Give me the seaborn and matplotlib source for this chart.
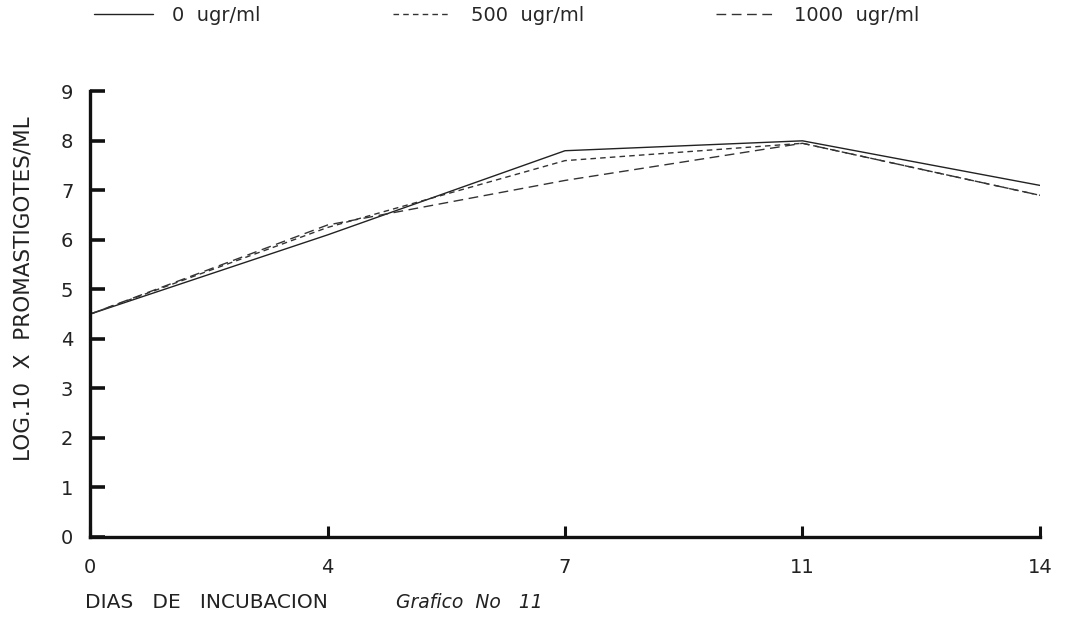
import matplotlib
matplotlib.use("Agg")
import matplotlib.pyplot as plt
import seaborn as sns
import pandas as pd

# Incubation days (evenly spaced categories on the x axis)
days = ["0", "4", "7", "11", "14"]

# log10 of promastigotes/ml for each concentration
conc_0 = [4.5, 6.1, 7.8, 8.0, 7.1]
conc_500 = [4.5, 6.25, 7.6, 7.95, 6.9]
conc_1000 = [4.5, 6.3, 7.2, 7.95, 6.9]

series_labels = ["0  ugr/ml", "500  ugr/ml", "1000  ugr/ml"]
y_ticks = [0, 1, 2, 3, 4, 5, 6, 7, 8, 9]

sns.set_theme(style="white")
plt.rcParams["font.family"] = ["DejaVu Sans"]

df = pd.DataFrame({
    "dia": days * 3,
    "valor": conc_0 + conc_500 + conc_1000,
    "serie": [series_labels[0]] * 5 + [series_labels[1]] * 5 + [series_labels[2]] * 5,
})

fig = plt.figure(figsize=(10.77, 6.19), dpi=100)
ax = fig.add_axes([0.0836, 0.1325, 0.882, 0.72])

sns.lineplot(
    data=df, x="dia", y="valor", hue="serie", style="serie",
    palette=["#222222", "#333333", "#333333"],
    dashes={series_labels[0]: "", series_labels[1]: (4, 3), series_labels[2]: (7, 4)},
    linewidth=1.0, sort=False, ax=ax,
)

ax.set_xlim(0, len(days) - 1)
ax.set_ylim(0, 9)
ax.set_yticks(y_ticks)
ax.set_xticks(range(len(days)))
ax.set_xticklabels(days)
ax.set_xlabel("")
ax.set_ylabel("")

for side in ["top", "right"]:
    ax.spines[side].set_visible(False)
for side in ["left", "bottom"]:
    ax.spines[side].set_linewidth(2.4)
    ax.spines[side].set_color("#111111")

ax.tick_params(axis="y", direction="in", length=11, width=2.6, pad=12,
               labelsize=14, colors="#111111", labelcolor="#222222", left=True)
ax.tick_params(axis="x", direction="in", length=8, width=2.2, pad=15,
               labelsize=14, colors="#111111", labelcolor="#222222", bottom=True)

sns.move_legend(
    ax, "upper left", bbox_to_anchor=(0.075, 1.012), bbox_transform=fig.transFigure,
    ncol=3, frameon=False, title=None, fontsize=14, handlelength=3.0,
    handletextpad=1.0, columnspacing=6.8, borderaxespad=0.3,
)

fig.text(0.022, 0.533, "LOG.10  X  PROMASTIGOTES/ML", rotation=90,
         ha="center", va="center", fontsize=15.5, color="#222222")
fig.text(0.079, 0.027, "DIAS   DE   INCUBACION", ha="left", va="center",
         fontsize=14.5, color="#222222")
fig.text(0.368, 0.027, "Grafico  No   11", ha="left", va="center",
         fontsize=13.5, style="italic", color="#222222")

fig.savefig("out.png", dpi=100, facecolor="white")
